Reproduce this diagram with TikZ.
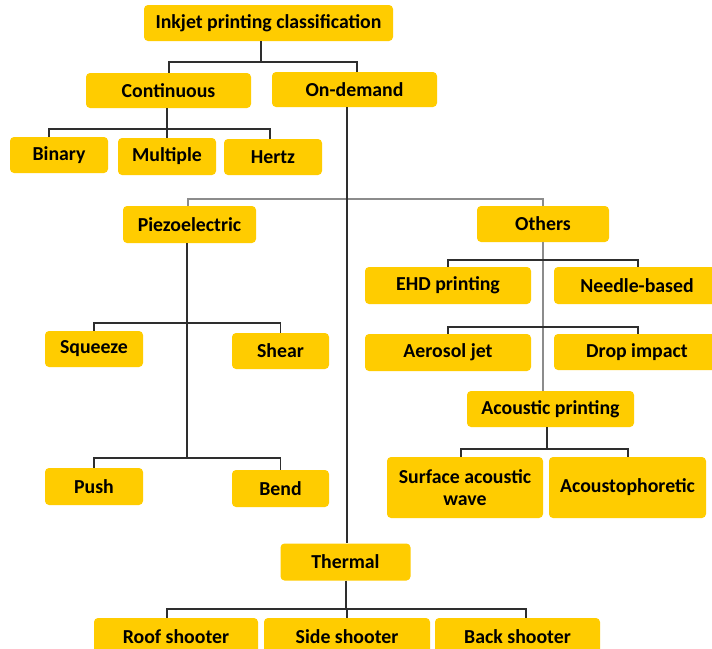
\documentclass[tikz,border=0pt]{standalone}
\usepackage{fontspec}
\setmainfont{Carlito}
\definecolor{boxy}{HTML}{FFCC00}
\definecolor{dk}{HTML}{2E2E2E}
\definecolor{gy}{HTML}{8C8C8C}
\begin{document}
\begin{tikzpicture}[x=1pt,y=-1pt,
  box/.style={fill=boxy, rounded corners=4pt, inner sep=1pt, align=center,
    font=\fontsize{19.8}{22}\selectfont\bfseries, text=black},
  ln/.style={draw=dk, line width=1.1pt},
  gl/.style={draw=gy, line width=1.1pt}]
\clip (0,0) rectangle (712,648);
\fill[white] (0,0) rectangle (712,648);
% nodes
\node[box, minimum width=249, minimum height=36] (root) at (268.5,23) {Inkjet printing classification};
\node[box, minimum width=165, minimum height=35] (cont) at (168.5,90.5) {Continuous};
\node[box, minimum width=165, minimum height=35] (ond) at (354.5,89.5) {On-demand};
\node[box, minimum width=98, minimum height=36] (bin) at (59,155) {Binary};
\node[box, minimum width=98, minimum height=37] (mult) at (167,156.5) {Multiple};
\node[box, minimum width=98, minimum height=36] (hertz) at (273,157) {Hertz};
\node[box, minimum width=133, minimum height=37] (piezo) at (189.5,224.5) {Piezoelectric};
\node[box, minimum width=132, minimum height=36] (others) at (543,224) {Others};
\node[box, minimum width=166, minimum height=37] (ehd) at (448,285.5) {EHD printing};
\node[box, minimum width=166, minimum height=37] (needle) at (637,285.5) {Needle-based};
\node[box, minimum width=166, minimum height=37] (aero) at (448,352.5) {Aerosol jet};
\node[box, minimum width=166, minimum height=36] (drop) at (637,352) {Drop impact};
\node[box, minimum width=167, minimum height=36] (acou) at (550.5,409) {Acoustic printing};
\node[box, minimum width=156, minimum height=61] (saw) at (465,487.5) {Surface acoustic\\wave};
\node[box, minimum width=157, minimum height=61] (acph) at (627.5,487.5) {Acoustophoretic};
\node[box, minimum width=98, minimum height=36] (squeeze) at (94,349) {Squeeze};
\node[box, minimum width=97, minimum height=36] (shear) at (280.5,351) {Shear};
\node[box, minimum width=98, minimum height=37] (push) at (94,486.5) {Push};
\node[box, minimum width=97, minimum height=37] (bend) at (280.5,488.5) {Bend};
\node[box, minimum width=130, minimum height=37] (thermal) at (345.5,562) {Thermal};
\node[box, minimum width=164, minimum height=37] (roof) at (176,636.5) {Roof shooter};
\node[box, minimum width=166, minimum height=37] (side) at (347,636.5) {Side shooter};
\node[box, minimum width=165, minimum height=37] (back) at (517.5,636.5) {Back shooter};
% junctions
\coordinate (jr) at (261,62);
\coordinate (jc) at (167,129);
\coordinate (jo) at (347,0);
\coordinate (jg) at (347,199);
\coordinate (jp1) at (187,323);
\coordinate (jp2) at (187,458);
\coordinate (jo1) at (543,260);
\coordinate (jo2) at (543,327);
\coordinate (ja) at (547,449);
\coordinate (jt) at (346,609);
% connectors
\draw[ln] (root.south -| jr) -- (jr);
\draw[ln] ([xshift=0.5]cont.north) |- (jr) -| ([xshift=2.5]ond.north);
\draw[ln] (cont.south -| jc) -- (jc);
\draw[ln] ([xshift=-10]bin.north) |- (jc) -| ([xshift=-3]hertz.north);
\draw[ln] (mult.north) -- (mult.north |- jc);
\draw[gl] ([xshift=-1.5]piezo.north) |- (jg) -| (others.north);
\draw[gl] (others.south) -- (acou.north -| others.south);
\draw[ln] (ond.south -| jo) -- (thermal.north -| jo);
\draw[ln] (piezo.south -| jp2) -- (jp2);
\draw[ln] (squeeze.north) |- (jp1) -| (shear.north);
\draw[ln] (push.north) |- (jp2) -| (bend.north);
\draw[ln] (ehd.north) |- (jo1) -| ([xshift=1]needle.north);
\draw[ln] (aero.north) |- (jo2) -| ([xshift=1]drop.north);
\draw[ln] (acou.south -| ja) -- (ja);
\draw[ln] ([xshift=-4]saw.north) |- (ja) -| ([xshift=0.5]acph.north);
\draw[ln] (thermal.south -| jt) -- (jt);
\draw[ln] ([xshift=-9]roof.north) |- (jt) -| ([xshift=8.5]back.north);
\draw[ln] (side.north) -- (side.north |- jt);
\end{tikzpicture}
\end{document}
